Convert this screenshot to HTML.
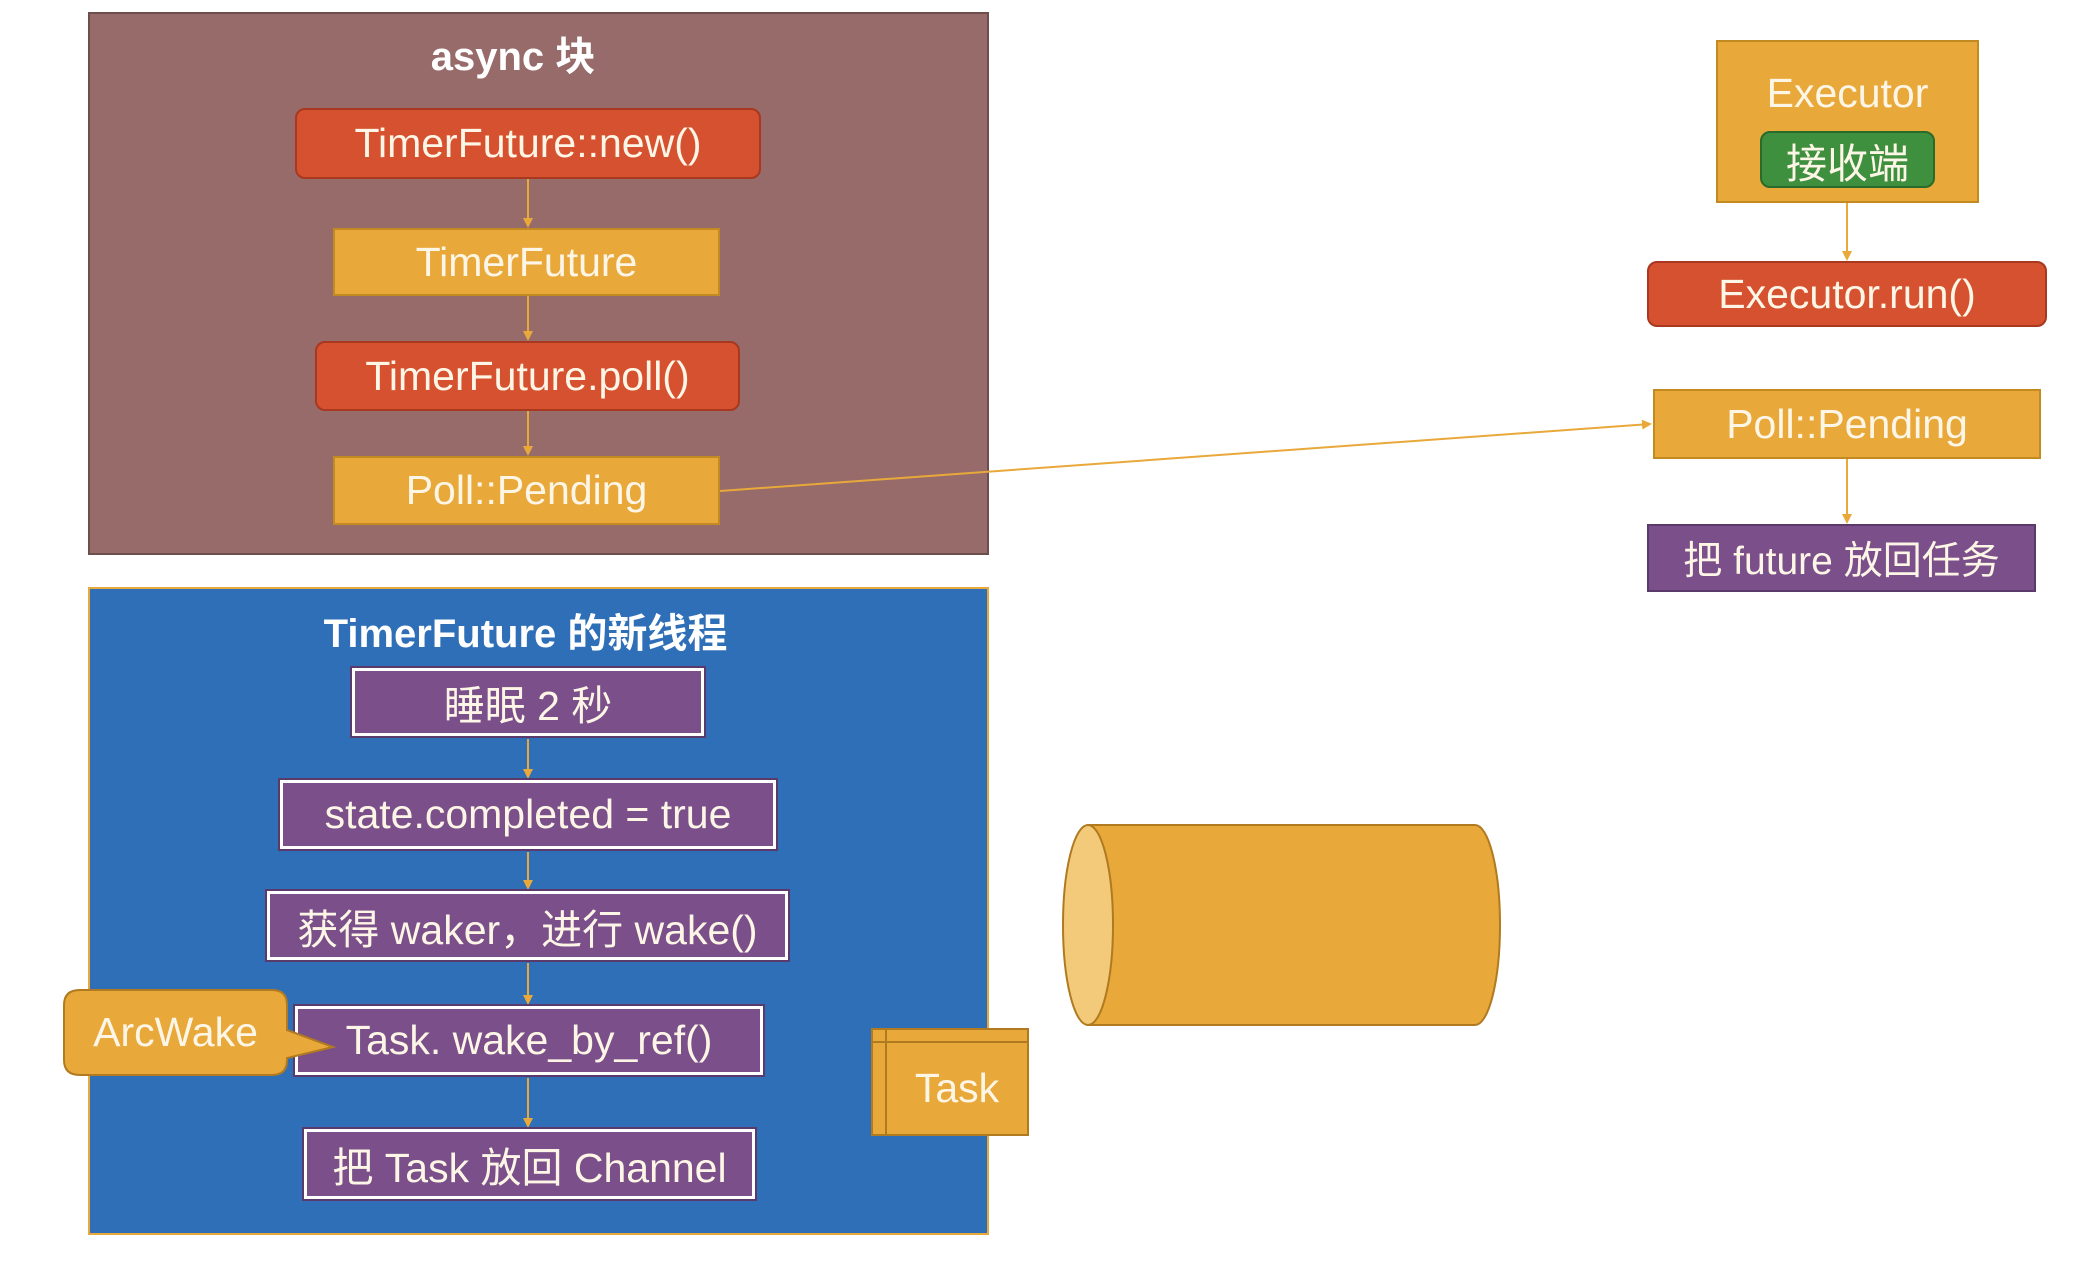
<!DOCTYPE html>
<html><head><meta charset="utf-8"><style>
html,body{margin:0;padding:0;background:#fff;}
body{width:2090px;height:1264px;position:relative;overflow:hidden;font-family:"Liberation Sans","Noto Sans CJK SC",sans-serif;}
.b{position:absolute;box-sizing:border-box;display:flex;align-items:center;justify-content:center;color:#fdf6e6;font-size:41px;white-space:nowrap;}
.red{background:#d6512f;border:2px solid #a8381f;border-radius:10px;}
.org{background:#e8a83a;border:2px solid #c48a22;}
.pur{background:#7a4f8a;border:3px solid #fff;outline:2px solid #5a3a6a;}
.t{position:absolute;color:#fff;font-weight:bold;font-size:40px;text-align:center;}
</style></head><body>
<div style="position:absolute;left:88px;top:12px;width:901px;height:543px;background:#966b6a;border:2px solid #6e4e4d;box-sizing:border-box"></div>
<div class="t" style="left:88px;width:850px;top:24px">async 块</div>
<div style="position:absolute;left:88px;top:587px;width:901px;height:648px;background:#2e6fb8;border:2px solid #e8a83a;box-sizing:border-box"></div>
<div class="t" style="left:88px;width:875px;top:601px">TimerFuture 的新线程</div>

<svg width="2090" height="1264" style="position:absolute;left:0;top:0">
<defs><marker id="a" markerWidth="10" markerHeight="10" refX="8" refY="5" orient="auto" markerUnits="userSpaceOnUse"><path d="M0,0 L10,5 L0,10z" fill="#e8a83a"/></marker></defs>
<g stroke="#e8a83a" stroke-width="2" fill="none">
<line x1="528" y1="179" x2="528" y2="226" marker-end="url(#a)"/>
<line x1="528" y1="296" x2="528" y2="339" marker-end="url(#a)"/>
<line x1="528" y1="411" x2="528" y2="454" marker-end="url(#a)"/>
<line x1="720" y1="491" x2="1650" y2="424" marker-end="url(#a)"/>
<line x1="1847" y1="203" x2="1847" y2="259" marker-end="url(#a)"/>
<line x1="1847" y1="459" x2="1847" y2="522" marker-end="url(#a)"/>
<line x1="528" y1="739" x2="528" y2="777" marker-end="url(#a)"/>
<line x1="528" y1="852" x2="528" y2="888" marker-end="url(#a)"/>
<line x1="528" y1="963" x2="528" y2="1003" marker-end="url(#a)"/>
<line x1="528" y1="1078" x2="528" y2="1126" marker-end="url(#a)"/>
</g>
<path d="M1088,825 L1475,825 A25,100 0 0 1 1475,1025 L1088,1025 Z" fill="#e8a83a" stroke="#b07a20" stroke-width="2"/>
<ellipse cx="1088" cy="925" rx="25" ry="100" fill="#f3c97a" stroke="#b07a20" stroke-width="2"/>
<rect x="872" y="1029" width="156" height="106" fill="#e8a83a" stroke="#b07a20" stroke-width="2"/>
<line x1="872" y1="1042" x2="1028" y2="1042" stroke="#b07a20" stroke-width="2"/>
<line x1="886" y1="1029" x2="886" y2="1135" stroke="#b07a20" stroke-width="2"/>
</svg>

<div class="b red" style="left:295px;top:108px;width:466px;height:71px">TimerFuture::new()</div>
<div class="b org" style="left:333px;top:228px;width:387px;height:68px">TimerFuture</div>
<div class="b red" style="left:315px;top:341px;width:425px;height:70px">TimerFuture.poll()</div>
<div class="b org" style="left:333px;top:456px;width:387px;height:69px">Poll::Pending</div>

<div class="b pur" style="left:352px;top:668px;width:352px;height:68px">睡眠 2 秒</div>
<div class="b pur" style="left:280px;top:780px;width:496px;height:69px">state.completed = true</div>
<div class="b pur" style="left:267px;top:891px;width:521px;height:69px">获得 waker，进行 wake()</div>
<div class="b pur" style="left:295px;top:1006px;width:468px;height:69px">Task. wake_by_ref()</div>
<div class="b pur" style="left:304px;top:1129px;width:451px;height:70px">把 Task 放回 Channel</div>
<svg width="2090" height="1264" style="position:absolute;left:0;top:0">
<path d="M80,990 L272,990 Q287,990 287,1005 L287,1030 L333,1047 L287,1058 L287,1060 Q287,1075 272,1075 L80,1075 Q64,1075 64,1060 L64,1005 Q64,990 80,990 Z" fill="#e8a83a" stroke="#b07a20" stroke-width="2"/>
</svg>
<div class="b" style="left:64px;top:990px;width:223px;height:85px">ArcWake</div>
<div class="b" style="left:886px;top:1042px;width:142px;height:93px">Task</div>

<div class="b org" style="left:1716px;top:40px;width:263px;height:163px;align-items:flex-start;padding-top:28px">Executor</div>
<div class="b" style="left:1760px;top:131px;width:175px;height:57px;background:#3e8f3e;border:2px solid #2a6a2a;border-radius:10px">接收端</div>
<div class="b red" style="left:1647px;top:261px;width:400px;height:66px">Executor.run()</div>
<div class="b org" style="left:1653px;top:389px;width:388px;height:70px">Poll::Pending</div>
<div class="b" style="left:1647px;top:524px;width:389px;height:68px;background:#7a4f8a;border:2px solid #5a3a6a;font-size:39px">把 future 放回任务</div>
</body></html>
